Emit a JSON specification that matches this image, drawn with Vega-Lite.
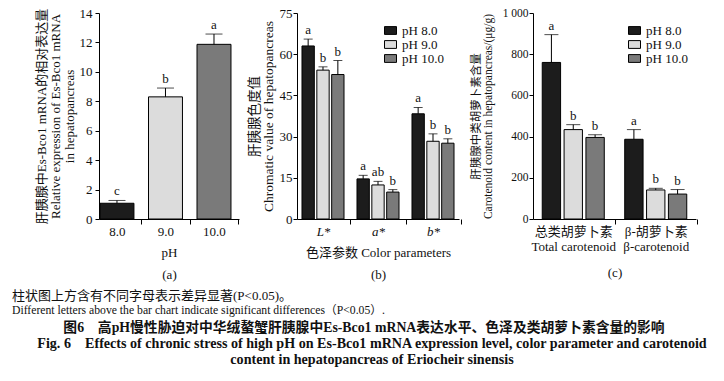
{
  "$schema": "https://vega.github.io/schema/vega-lite/v6.json",
  "padding": {"left": 12, "top": 7, "right": 0, "bottom": 0},
  "bounds": "flush",
  "spacing": 283,
  "config": {
    "view": {"stroke": null},
    "font": "Liberation Serif, Noto Sans CJK SC",
    "axis": {
      "domain": true, "ticks": true,
      "domainColor": "#000", "tickColor": "#000", "labelColor": "#111", "titleColor": "#111",
      "labelFont": "Liberation Serif, Noto Sans CJK SC", "titleFont": "Liberation Serif, Noto Sans CJK SC",
      "titleFontWeight": "normal", "labelFontSize": 13, "titleFontSize": 13, "tickSize": 4,
      "grid": false, "labelPadding": 1, "domainWidth": 1, "tickWidth": 1
    },
    "text": {"font": "Liberation Serif, Noto Sans CJK SC", "color": "#111"}
  },
  "vconcat": [
    {
      "spacing": 8,
      "resolve": {"scale": {"color": "independent", "x": "independent", "y": "independent", "xOffset": "independent"}, "legend": {"color": "independent"}},
      "hconcat": [
        {
          "width": 140, "height": 206,
          "data": {"values": [
            {"ph": "8.0", "mean": 1.07, "upper": 1.26, "letter": "c"},
            {"ph": "9.0", "mean": 8.3, "upper": 8.9, "letter": "b"},
            {"ph": "10.0", "mean": 11.87, "upper": 12.57, "letter": "a"}
          ]},
          "encoding": {
            "x": {"field": "ph", "type": "nominal", "sort": ["8.0", "9.0", "10.0"],
              "scale": {"paddingInner": 0.3, "paddingOuter": 0.093, "align": 0.11},
              "axis": {"title": ["pH", "(a)"], "titleLineHeight": 22, "titlePadding": 8, "labelAngle": 0, "tickSize": 5,
                "bandPosition": 0.5, "tickOffset": 24.25, "labelOffset": -24.25}},
            "y": {"field": "mean", "type": "quantitative", "scale": {"domain": [0, 14], "nice": false},
              "axis": {"values": [0, 2, 4, 6, 8, 10, 12, 14], "labelPadding": 3, "title": ["肝胰腺中Es-Bco1 mRNA的相对表达量", "Relative expression of Es-Bco1 mRNA", "in hepatopancreas"], "titleLineHeight": 14, "titlePadding": 3}}
          },
          "layer": [
            {"mark": {"type": "bar", "stroke": "#000", "strokeWidth": 1},
             "encoding": {
               "color": {"field": "ph", "type": "nominal", "sort": ["8.0", "9.0", "10.0"], "scale": {"domain": ["8.0", "9.0", "10.0"], "range": ["#1c1c1c", "#dcdcdc", "#7a7a7a"]}, "legend": null}
             }},
            {"mark": {"type": "rule", "color": "#000", "strokeWidth": 1},
             "encoding": {"y2": {"field": "upper"}}},
            {"mark": {"type": "tick", "color": "#000", "thickness": 1, "size": 17},
             "encoding": {"y": {"field": "upper", "type": "quantitative"}}},
            {"mark": {"type": "text", "baseline": "bottom", "dy": -2, "fontSize": 13},
             "encoding": {"y": {"field": "upper", "type": "quantitative"}, "text": {"field": "letter"}}}
          ]
        },
        {
          "width": 162, "height": 206,
          "data": {"values": [
            {"param": "L*", "ph": "pH 8.0", "mean": 63.0, "upper": 65.5, "letter": "a"},
            {"param": "L*", "ph": "pH 9.0", "mean": 54.2, "upper": 55.4, "letter": "b"},
            {"param": "L*", "ph": "pH 10.0", "mean": 52.6, "upper": 57.7, "letter": "b"},
            {"param": "a*", "ph": "pH 8.0", "mean": 14.6, "upper": 15.9, "letter": "a"},
            {"param": "a*", "ph": "pH 9.0", "mean": 12.4, "upper": 13.7, "letter": "ab"},
            {"param": "a*", "ph": "pH 10.0", "mean": 9.8, "upper": 10.7, "letter": "b"},
            {"param": "b*", "ph": "pH 8.0", "mean": 38.3, "upper": 40.6, "letter": "a"},
            {"param": "b*", "ph": "pH 9.0", "mean": 28.3, "upper": 31.0, "letter": "b"},
            {"param": "b*", "ph": "pH 10.0", "mean": 27.6, "upper": 29.2, "letter": "b"}
          ]},
          "encoding": {
            "x": {"field": "param", "type": "nominal", "sort": ["L*", "a*", "b*"],
              "scale": {"paddingInner": 0.236, "paddingOuter": 0.0907, "align": 0.5},
              "axis": {"title": ["色泽参数 Color parameters", "(b)"], "titleLineHeight": 22, "titlePadding": 8, "labelAngle": 0, "tickSize": 5,
                "labelFontStyle": "italic", "bandPosition": 0.5, "tickOffset": 27.5, "labelOffset": -27.5}},
            "xOffset": {"field": "ph", "type": "nominal", "sort": ["pH 8.0", "pH 9.0", "pH 10.0"], "scale": {"paddingInner": 0.17, "paddingOuter": 0}},
            "y": {"field": "mean", "type": "quantitative", "scale": {"domain": [0, 75], "nice": false},
              "axis": {"values": [0, 15, 30, 45, 60, 75], "title": ["肝胰腺色度值", "Chromatic value of hepatopancreas"], "titleFontSize": 13.5, "titleLineHeight": 14, "titlePadding": 4}}
          },
          "layer": [
            {"mark": {"type": "bar", "stroke": "#000", "strokeWidth": 1},
             "encoding": {
               "color": {"field": "ph", "type": "nominal", "sort": ["pH 8.0", "pH 9.0", "pH 10.0"],
                 "scale": {"domain": ["pH 8.0", "pH 9.0", "pH 10.0"], "range": ["#1c1c1c", "#dcdcdc", "#7a7a7a"]},
                 "legend": {"orient": "none", "legendX": 87, "legendY": 11, "title": null, "symbolType": "M-1,-0.65H1V0.65H-1Z", "symbolSize": 144,
                   "symbolStrokeColor": "#000", "symbolStrokeWidth": 1, "labelFontSize": 13, "labelFont": "Liberation Serif, Noto Sans CJK SC", "labelColor": "#111",
                   "rowPadding": 0, "labelOffset": 5, "padding": 0}}
             }},
            {"mark": {"type": "rule", "color": "#000", "strokeWidth": 1},
             "encoding": {"y2": {"field": "upper"}}},
            {"mark": {"type": "tick", "color": "#000", "thickness": 1, "size": 9},
             "encoding": {"y": {"field": "upper", "type": "quantitative"}}},
            {"mark": {"type": "text", "baseline": "bottom", "dy": -2, "fontSize": 13},
             "encoding": {"y": {"field": "upper", "type": "quantitative"}, "text": {"field": "letter"}}}
          ]
        },
        {
          "width": 163, "height": 206,
          "data": {"values": [
            {"kind": "总类胡萝卜素|Total carotenoid", "ph": "pH 8.0", "mean": 760, "upper": 895, "letter": "a"},
            {"kind": "总类胡萝卜素|Total carotenoid", "ph": "pH 9.0", "mean": 434, "upper": 458, "letter": "b"},
            {"kind": "总类胡萝卜素|Total carotenoid", "ph": "pH 10.0", "mean": 396, "upper": 409, "letter": "b"},
            {"kind": "β-胡萝卜素|β-carotenoid", "ph": "pH 8.0", "mean": 387, "upper": 434, "letter": "a"},
            {"kind": "β-胡萝卜素|β-carotenoid", "ph": "pH 9.0", "mean": 141, "upper": 149, "letter": "b"},
            {"kind": "β-胡萝卜素|β-carotenoid", "ph": "pH 10.0", "mean": 121, "upper": 143, "letter": "b"}
          ]},
          "encoding": {
            "x": {"field": "kind", "type": "nominal", "sort": ["总类胡萝卜素|Total carotenoid", "β-胡萝卜素|β-carotenoid"],
              "scale": {"paddingInner": 0.248, "paddingOuter": 0.112, "align": 0.5},
              "axis": {"title": "(c)", "titlePadding": 13, "labelAngle": 0, "tickSize": 5, "labelExpr": "split(datum.label, '|')", "labelLineHeight": 15,
                "bandPosition": 0.5, "tickOffset": 41.25, "labelOffset": -41.25}},
            "xOffset": {"field": "ph", "type": "nominal", "sort": ["pH 8.0", "pH 9.0", "pH 10.0"], "scale": {"paddingInner": 0.16, "paddingOuter": 0}},
            "y": {"field": "mean", "type": "quantitative", "scale": {"domain": [0, 1000], "nice": false},
              "axis": {"values": [0, 200, 400, 600, 800, 1000], "labelFontSize": 11.5, "labelExpr": "datum.value == 1000 ? '1 000' : datum.label",
                "title": ["肝胰腺中类胡萝卜素含量", "Carotenoid content in hepatopancreas/(μg/g)"], "titleFontSize": 11.5, "titleLineHeight": 12, "titlePadding": 9}}
          },
          "layer": [
            {"mark": {"type": "bar", "stroke": "#000", "strokeWidth": 1},
             "encoding": {
               "color": {"field": "ph", "type": "nominal", "sort": ["pH 8.0", "pH 9.0", "pH 10.0"],
                 "scale": {"domain": ["pH 8.0", "pH 9.0", "pH 10.0"], "range": ["#1c1c1c", "#dcdcdc", "#7a7a7a"]},
                 "legend": {"orient": "none", "legendX": 95, "legendY": 11, "title": null, "symbolType": "M-1,-0.65H1V0.65H-1Z", "symbolSize": 144,
                   "symbolStrokeColor": "#000", "symbolStrokeWidth": 1, "labelFontSize": 13, "labelFont": "Liberation Serif, Noto Sans CJK SC", "labelColor": "#111",
                   "rowPadding": 0, "labelOffset": 5, "padding": 0}}
             }},
            {"mark": {"type": "rule", "color": "#000", "strokeWidth": 1},
             "encoding": {"y2": {"field": "upper"}}},
            {"mark": {"type": "tick", "color": "#000", "thickness": 1, "size": 14},
             "encoding": {"y": {"field": "upper", "type": "quantitative"}}},
            {"mark": {"type": "text", "baseline": "bottom", "dy": -2, "fontSize": 13},
             "encoding": {"y": {"field": "upper", "type": "quantitative"}, "text": {"field": "letter"}}}
          ]
        }
      ]
    },
    {
      "width": 600, "height": 64,
      "data": {"values": [
        {"line": 1, "text": "柱状图上方含有不同字母表示差异显著(P<0.05)。"},
        {"line": 2, "text": "Different letters above the bar chart indicate significant differences（P<0.05）."},
        {"line": 3, "text": "图6　高pH慢性胁迫对中华绒螯蟹肝胰腺中Es-Bco1 mRNA表达水平、色泽及类胡萝卜素含量的影响"},
        {"line": 4, "text": "Fig. 6　Effects of chronic stress of high pH on Es-Bco1 mRNA expression level, color parameter and carotenoid"},
        {"line": 5, "text": "content in hepatopancreas of Eriocheir sinensis"}
      ]},
      "encoding": {
        "y": {"field": "line", "type": "ordinal", "scale": {"type": "point", "padding": 0}, "axis": null},
        "text": {"field": "text"}
      },
      "layer": [
        {"transform": [{"filter": "datum.line == 1"}], "mark": {"type": "text", "align": "left", "baseline": "middle", "fontSize": 13, "x": -87}},
        {"transform": [{"filter": "datum.line == 2"}], "mark": {"type": "text", "align": "left", "baseline": "middle", "fontSize": 11.7, "x": -87, "dy": -2}},
        {"transform": [{"filter": "datum.line == 3"}], "mark": {"type": "text", "align": "center", "baseline": "middle", "fontSize": 13.8, "fontWeight": "bold", "x": 265}},
        {"transform": [{"filter": "datum.line >= 4"}], "mark": {"type": "text", "align": "center", "baseline": "middle", "fontSize": 14.1, "fontWeight": "bold", "x": 273}}
      ]
    }
  ]
}
